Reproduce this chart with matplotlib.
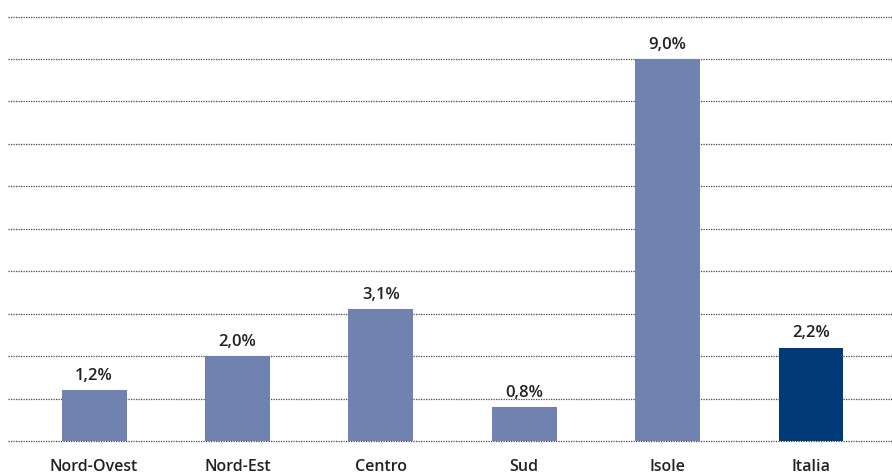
import matplotlib
matplotlib.use("Agg")
import matplotlib.pyplot as plt

categories = ["Nord-Ovest", "Nord-Est", "Centro", "Sud", "Isole", "Italia"]
values = [1.2, 2.0, 3.1, 0.8, 9.0, 2.2]
value_labels = ["1,2%", "2,0%", "3,1%", "0,8%", "9,0%", "2,2%"]
bar_colors = ["#7083B0"] * 5 + ["#003A78"]

plt.rcParams["font.family"] = ["Open Sans", "DejaVu Sans"]

fig = plt.figure(figsize=(8.92, 4.75), dpi=100)
ax = fig.add_axes([8 / 892, 1 - 441 / 475, 884 / 892, (441 - 16.5) / 475])

x = list(range(len(categories)))
ax.set_xlim(-0.6, 5.565)
ax.set_ylim(0, 10)

# dotted horizontal guides every unit
for yv in range(0, 11):
    ax.axhline(yv, color="#444444", linewidth=0.9, linestyle=(0, (1, 1)),
               zorder=0, clip_on=False)

bars = ax.bar(x, values, width=0.453, color=bar_colors, zorder=2)

for xi, v, lab in zip(x, values, value_labels):
    ax.text(xi, v + 0.15, lab, ha="center", va="bottom", fontsize=12,
            fontweight="semibold", color="#222222")

ax.set_xticks(x)
ax.set_xticklabels(categories, fontsize=11.5, fontweight="semibold", color="#222222")
ax.tick_params(axis="x", length=0, pad=13)
ax.set_yticks([])
for s in ax.spines.values():
    s.set_visible(False)

fig.savefig("out.png", dpi=100)
